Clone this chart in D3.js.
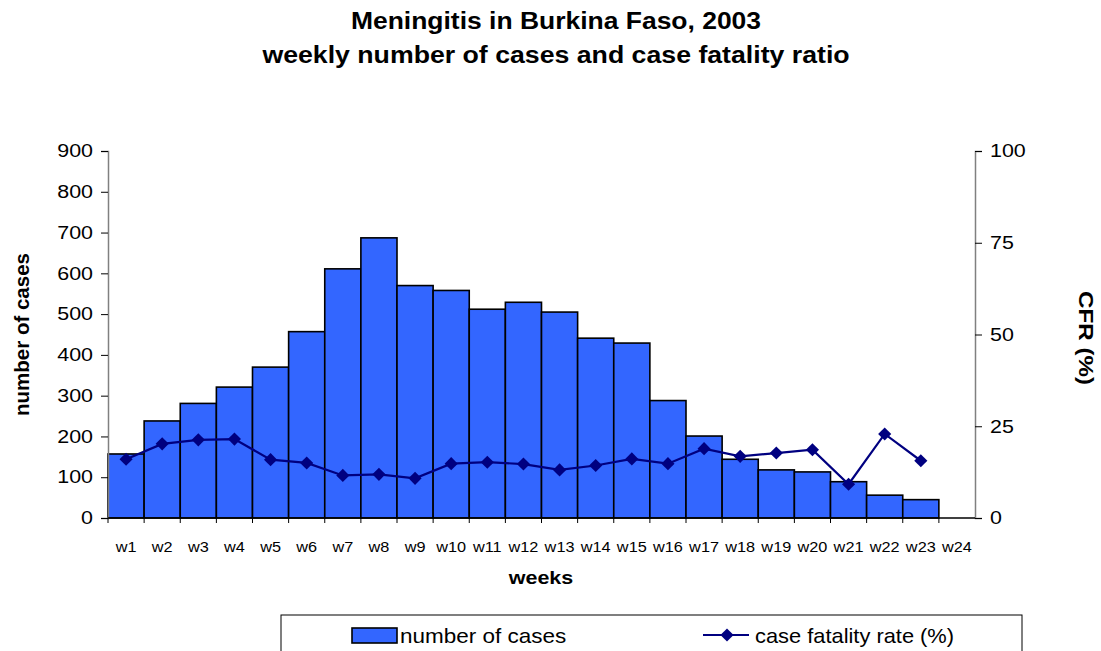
<!DOCTYPE html>
<html>
<head>
<meta charset="utf-8">
<script src="https://cdn.jsdelivr.net/npm/d3@7"></script>
<style>
  body { margin: 0; background: #fff; }
  text { font-family: "Liberation Sans", Arial, sans-serif; }
</style>
</head>
<body>
<svg id="chart"></svg>
<script>
// weekly data
const weeks = ['w1','w2','w3','w4','w5','w6','w7','w8','w9','w10','w11','w12',
  'w13','w14','w15','w16','w17','w18','w19','w20','w21','w22','w23','w24'];
const cases = [157, 238, 281, 321, 370, 457, 611, 687, 570, 558, 512, 529,
  505, 441, 429, 288, 201, 144, 118, 113, 89, 56, 45, null];
const cfr = [16.0, 20.2, 21.3, 21.5, 15.9, 15.0, 11.6, 11.9, 10.8, 14.8, 15.2, 14.7,
  13.1, 14.3, 16.1, 14.8, 18.9, 16.8, 17.7, 18.6, 9.2, 22.9, 15.6, null];
const leftTicks = [0, 100, 200, 300, 400, 500, 600, 700, 800, 900];
const rightTicks = [0, 25, 50, 75, 100];

const width = 1101;
const height = 651;
const margin = { top: 151, right: 126, bottom: 133, left: 108 };

const svg = d3.select('#chart')
  .attr('width', width)
  .attr('height', height);

// the original is a bit wider-set than Liberation Sans, so widen the text
function widen(sel, k) {
  sel.each(function () {
    const w = this.getComputedTextLength();
    d3.select(this).attr('textLength', w * k).attr('lengthAdjust', 'spacingAndGlyphs');
  });
}

// Title
svg.append('text')
  .attr('x', 556).attr('y', 29)
  .attr('text-anchor', 'middle')
  .style('font-size', '23px').style('font-weight', 'bold')
  .text('Meningitis in Burkina Faso, 2003')
  .call(widen, 1.15);
svg.append('text')
  .attr('x', 556).attr('y', 63)
  .attr('text-anchor', 'middle')
  .style('font-size', '23px').style('font-weight', 'bold')
  .text('weekly number of cases and case fatality ratio')
  .call(widen, 1.16);

const x = d3.scaleBand()
  .domain(weeks)
  .range([margin.left, width - margin.right])
  .padding(0);

const y = d3.scaleLinear()
  .domain([0, 900])
  .range([height - margin.bottom, margin.top]);

const y2 = d3.scaleLinear()
  .domain([0, 100])
  .range([height - margin.bottom, margin.top]);

// Bars
svg.append('g')
  .selectAll('rect')
  .data(weeks.map((w, i) => ({ w: w, v: cases[i] })).filter(d => d.v != null))
  .enter()
  .append('rect')
  .attr('x', d => x(d.w))
  .attr('y', d => y(d.v))
  .attr('width', x.bandwidth())
  .attr('height', d => y(0) - y(d.v))
  .style('fill', '#3366FF')
  .style('stroke', '#000')
  .style('stroke-width', 1.6);

// Left axis
const leftAxis = svg.append('g')
  .attr('transform', `translate(${margin.left},0)`)
  .call(d3.axisLeft(y).tickValues(leftTicks).tickSize(7).tickPadding(8));
leftAxis.select('.domain').attr('stroke', '#808080').attr('stroke-width', 1.5);
leftAxis.selectAll('.tick line').attr('stroke', '#000');
leftAxis.selectAll('text')
  .style('font-size', '18px')
  .style('font-family', '"Liberation Sans", Arial, sans-serif')
  .attr('fill', '#000')
  .call(widen, 1.19);

// Right axis
const rightAxis = svg.append('g')
  .attr('transform', `translate(${width - margin.right},0)`)
  .call(d3.axisRight(y2).tickValues(rightTicks).tickSize(7).tickPadding(8));
rightAxis.select('.domain').attr('stroke', '#808080').attr('stroke-width', 1.5);
rightAxis.selectAll('.tick line').attr('stroke', '#000');
rightAxis.selectAll('text')
  .style('font-size', '18px')
  .style('font-family', '"Liberation Sans", Arial, sans-serif')
  .attr('fill', '#000')
  .call(widen, 1.19);

// Bottom axis: ticks at the band boundaries
const bottom = svg.append('g')
  .attr('transform', `translate(0,${height - margin.bottom})`);
bottom.append('line')
  .attr('x1', margin.left).attr('x2', width - margin.right)
  .attr('stroke', '#000').attr('stroke-width', 1.5);
bottom.selectAll('.tk')
  .data(weeks)
  .enter()
  .append('line')
  .attr('x1', d => x(d)).attr('x2', d => x(d))
  .attr('y1', 0).attr('y2', 5)
  .attr('stroke', '#000');
bottom.selectAll('.lbl')
  .data(weeks)
  .enter()
  .append('text')
  .attr('x', d => x(d) + x.bandwidth() / 2)
  .attr('y', 34)
  .attr('text-anchor', 'middle')
  .style('font-size', '15.5px')
  .text(d => d)
  .call(widen, 1.05);

// Line for CFR
const pts = weeks.map((w, i) => ({ w: w, v: cfr[i] })).filter(d => d.v != null);
const line = d3.line()
  .x(d => x(d.w) + x.bandwidth() / 2)
  .y(d => y2(d.v));
svg.append('path')
  .datum(pts)
  .attr('d', line)
  .attr('fill', 'none')
  .attr('stroke', '#000080')
  .attr('stroke-width', 2.2);
svg.append('g')
  .selectAll('path')
  .data(pts)
  .enter()
  .append('path')
  .attr('d', d3.symbol().type(d3.symbolDiamond2).size(110))
  .attr('transform', d => `translate(${x(d.w) + x.bandwidth() / 2},${y2(d.v)})`)
  .attr('fill', '#000080');

// Axis titles
svg.append('text')
  .attr('transform', `translate(29,${(margin.top + height - margin.bottom) / 2}) rotate(-90)`)
  .attr('text-anchor', 'middle')
  .style('font-size', '20.5px').style('font-weight', 'bold')
  .text('number of cases');
svg.append('text')
  .attr('transform', `translate(1079,338) rotate(90)`)
  .attr('text-anchor', 'middle')
  .style('font-size', '21px').style('font-weight', 'bold')
  .text('CFR (%)')
  .call(widen, 1.15);
svg.append('text')
  .attr('x', 541).attr('y', 584)
  .attr('text-anchor', 'middle')
  .style('font-size', '19px').style('font-weight', 'bold')
  .text('weeks')
  .call(widen, 1.13);

// Legend
const legend = svg.append('g');
legend.append('rect')
  .attr('x', 281).attr('y', 615)
  .attr('width', 741).attr('height', 60)
  .attr('fill', '#fff').attr('stroke', '#000').attr('stroke-width', 1);
legend.append('rect')
  .attr('x', 352).attr('y', 628)
  .attr('width', 45).attr('height', 15)
  .style('fill', '#3366FF').style('stroke', '#000').style('stroke-width', 1.6);
legend.append('text')
  .attr('x', 400).attr('y', 643)
  .style('font-size', '21px')
  .text('number of cases')
  .call(widen, 1.07);
legend.append('line')
  .attr('x1', 703).attr('x2', 749).attr('y1', 635).attr('y2', 635)
  .attr('stroke', '#000080').attr('stroke-width', 2.2);
legend.append('path')
  .attr('d', d3.symbol().type(d3.symbolDiamond2).size(110))
  .attr('transform', 'translate(727,635)')
  .attr('fill', '#000080');
legend.append('text')
  .attr('x', 755).attr('y', 643)
  .style('font-size', '21px')
  .text('case fatality rate (%)')
  .call(widen, 1.04);
</script>
</body>
</html>
